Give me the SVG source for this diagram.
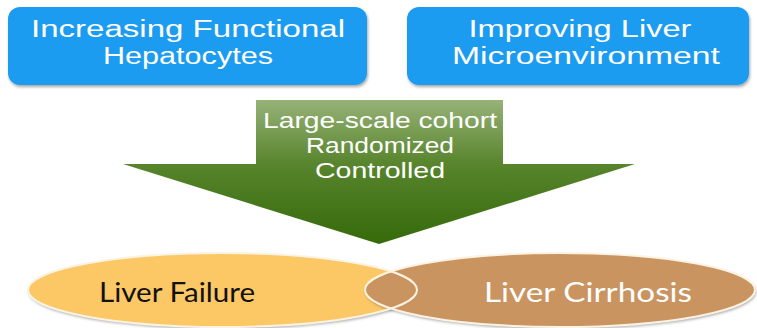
<svg xmlns="http://www.w3.org/2000/svg" width="757" height="328" viewBox="0 0 757 328">
<defs>
<style>
.box{fill:#1b9cf0;}
.btxt{font-family:"Liberation Sans",Arial,sans-serif;font-size:23.5px;fill:#ffffff;text-anchor:middle;}
.atxt{font-family:"Liberation Sans",Arial,sans-serif;font-size:21.5px;fill:#ffffff;text-anchor:middle;}
.etxt{font-family:"Lato","Open Sans",sans-serif;font-size:27px;text-anchor:middle;}
.edge{fill:none;stroke:#fbf3e4;stroke-width:2;}
</style>
<linearGradient id="ag" x1="0" y1="100" x2="0" y2="244" gradientUnits="userSpaceOnUse">
<stop offset="0" stop-color="#97b277"/>
<stop offset="0.45" stop-color="#57842c"/>
<stop offset="1" stop-color="#356a0a"/>
</linearGradient>
<filter id="sh" x="-5%" y="-10%" width="110%" height="130%">
<feDropShadow dx="1" dy="2" stdDeviation="1.5" flood-color="#000" flood-opacity="0.35"/>
</filter>
</defs>
<g id="box-hepatocytes">
<rect class="box" x="8" y="7" width="359" height="78" rx="12" filter="url(#sh)"/>
<text class="btxt" x="188" y="37" textLength="314" lengthAdjust="spacingAndGlyphs">Increasing Functional</text>
<text class="btxt" x="188" y="64" textLength="170" lengthAdjust="spacingAndGlyphs">Hepatocytes</text>
</g>
<g id="box-microenvironment">
<rect class="box" x="407" y="7" width="342" height="78" rx="12" filter="url(#sh)"/>
<text class="btxt" x="580" y="37" textLength="223" lengthAdjust="spacingAndGlyphs">Improving Liver</text>
<text class="btxt" x="586" y="64" textLength="268" lengthAdjust="spacingAndGlyphs">Microenvironment</text>
</g>
<g id="connectors">
<g id="arrow">
<polygon points="256,100 503,100 503,164 635,164 379,244 123,164 256,164" fill="url(#ag)"/>
<text class="atxt" x="380" y="128" textLength="234" lengthAdjust="spacingAndGlyphs">Large-scale cohort</text>
<text class="atxt" x="380" y="153" textLength="148" lengthAdjust="spacingAndGlyphs">Randomized</text>
<text class="atxt" x="380" y="178" textLength="130" lengthAdjust="spacingAndGlyphs">Controlled</text>
</g>
</g>
<g id="venn">
<g id="liver-failure">
<ellipse cx="222.5" cy="290" rx="194.5" ry="37" fill="#fcc765" filter="url(#sh)"/>
</g>
<g id="liver-cirrhosis">
<ellipse cx="560" cy="290" rx="195" ry="37" fill="#c99460" filter="url(#sh)"/>
</g>
<ellipse class="edge" cx="222.5" cy="290" rx="194.5" ry="37"/>
<ellipse class="edge" cx="560" cy="290" rx="195" ry="37"/>
<text class="etxt" x="177" y="302" fill="#111111" textLength="156" lengthAdjust="spacingAndGlyphs">Liver Failure</text>
<text class="etxt" x="588" y="302" fill="#ffffff" textLength="208" lengthAdjust="spacingAndGlyphs">Liver Cirrhosis</text>
</g>
</svg>
